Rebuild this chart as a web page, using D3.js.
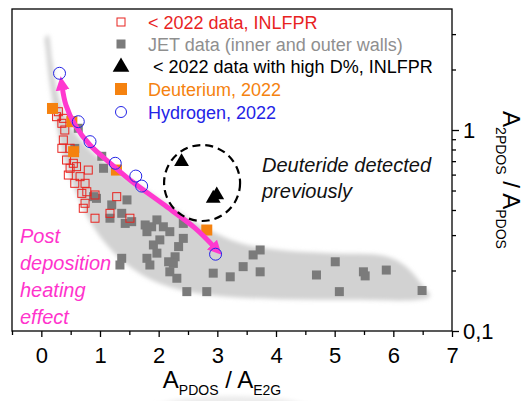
<!DOCTYPE html>
<html>
<head>
<meta charset="utf-8">
<script src="https://cdn.jsdelivr.net/npm/d3@7"></script>
<style>
  body { margin: 0; background: #fff; }
  svg { display: block; font-family: "Liberation Sans", Arial, sans-serif; }
</style>
</head>
<body>
<svg id="chart" width="530" height="401"></svg>
<script>
// ---- Data -------------------------------------------------------------
// JET data (inner and outer walls)
const jetX = [0.63, 0.57, 1.03, 1.06, 0.89, 0.94, 1.20, 1.46, 1.17, 1.37, 1.43, 1.54, 1.77, 1.88, 1.97, 2.08,
              2.19, 1.80, 2.42, 1.91, 1.97, 1.80, 1.85, 2.34, 2.28, 2.17, 2.19, 2.31, 1.37, 1.34, 2.48, 2.82,
              2.42, 2.02, 2.25, 2.93, 3.22, 3.44, 3.61, 3.73, 3.73, 4.69, 5.01, 5.08, 5.49, 5.52, 5.88, 6.49];
const jetY = [1.02, 0.81, 0.74, 0.645, 0.466, 0.457, 0.424, 0.449, 0.364, 0.385, 0.343, 0.350, 0.337, 0.330, 0.357, 0.330,
              0.312, 0.312, 0.289, 0.268, 0.244, 0.230, 0.213, 0.263, 0.234, 0.221, 0.197, 0.183, 0.230, 0.213, 0.157, 0.157,
              0.343, 0.284, 0.217, 0.194, 0.186, 0.209, 0.239, 0.253, 0.197, 0.190, 0.221, 0.157, 0.197, 0.188, 0.201, 0.159];

// < 2022 data, INLFPR
const inlfprX = [0.26, 0.29, 0.375, 0.35, 0.40, 0.375, 0.35, 0.49, 0.43, 0.545, 0.49, 0.60, 0.46,
                 0.66, 0.80, 0.57, 0.745, 0.775, 0.69, 0.915, 0.745, 0.715, 0.915, 1.285, 1.17, 1.51];
const inlfprY = [1.165, 1.233, 1.143, 1.08, 1.00, 0.892, 0.811, 0.811, 0.709, 0.683, 0.645, 0.657, 0.597,
                 0.586, 0.632, 0.543, 0.543, 0.493, 0.484, 0.475, 0.432, 0.408, 0.364, 0.466, 0.385, 0.364];

// < 2022 data with high D%, INLFPR
const highDX = [2.39, 2.93, 2.99];
const highDY = [0.695, 0.457, 0.475];

// Deuterium, 2022
const deutX = [0.19, 0.52, 0.55, 1.28, 2.82];
const deutY = [1.28, 1.10, 0.78, 0.632, 0.318];

// Hydrogen, 2022
const hydX = [0.31, 0.63, 0.83, 1.26, 1.61, 1.71, 2.97];
const hydY = [1.915, 1.10, 0.875, 0.683, 0.59, 0.526, 0.241];

// Envelope of the data cloud (upper edge, then lower edge back)
const bandX = [0.114, 0.182, 0.25, 0.353, 0.523, 0.83, 1.256, 1.682, 2.194, 2.79, 3.387, 4.069, 4.92, 5.858, 6.2, 6.455, 6.626,
               6.421, 5.262, 4.069, 3.046, 2.364, 1.853, 1.427, 1.086, 0.796, 0.574, 0.387, 0.25, 0.148, 0.08, 0.063];
const bandY = [2.97, 2.23, 1.67, 1.29, 1.02, 0.795, 0.632, 0.526, 0.419, 0.325, 0.274, 0.253, 0.244, 0.236, 0.211, 0.175, 0.149,
               0.143, 0.143, 0.144, 0.149, 0.160, 0.181, 0.218, 0.274, 0.365, 0.503, 0.726, 1.096, 1.67, 2.50, 2.87];

// Post-deposition heating trend (double-headed arrow)
const trendX = [0.353, 0.42, 0.574, 0.83, 1.171, 1.512, 2.074, 2.62, 2.957];
const trendY = [1.655, 1.33, 1.06, 0.842, 0.685, 0.564, 0.428, 0.325, 0.26];

// Deuteride group centre
const deuterideCentre = [2.74, 0.545];

const xMajorTicks = [0, 1, 2, 3, 4, 5, 6, 7];
const xMinorTicks = [-0.5, 0.5, 1.5, 2.5, 3.5, 4.5, 5.5, 6.5];
const yMajorTicks = [0.1, 1];
const yMajorLabels = ["0,1", "1"];
const yMinorTicks = [0.2, 0.3, 0.4, 0.5, 0.6, 0.7, 0.8, 0.9, 2, 3];

const legendLabels = ["< 2022 data, INLFPR", "JET data (inner and outer walls)",
                      " < 2022 data with high D%, INLFPR", "Deuterium, 2022", "Hydrogen, 2022"];

// ---- Drawing ----------------------------------------------------------
const RED = "#e8231f", GRAY = "#7b7b7b", ORANGE = "#f5820f", BLUE = "#2424e6", PINK = "#ff38cf";
const svg = d3.select("#chart");

const x = d3.scaleLinear().domain([-0.5, 7]).range([12, 452]);
const y = d3.scaleLog().domain([0.1, 4]).range([331, 9]);

const defs = svg.append("defs");
defs.append("filter").attr("id", "soft").attr("x", "-10%").attr("y", "-10%").attr("width", "120%").attr("height", "120%")
  .append("feGaussianBlur").attr("stdDeviation", 2);
defs.append("marker")
  .attr("id", "head").attr("viewBox", "0 0 10 10")
  .attr("markerUnits", "userSpaceOnUse").attr("markerWidth", 14).attr("markerHeight", 16)
  .attr("refX", 3).attr("refY", 5).attr("orient", "auto-start-reverse")
  .append("path").attr("d", "M0,0 L10,5 L0,10 z").attr("fill", PINK);

svg.append("rect").attr("width", 530).attr("height", 401).attr("fill", "#fff");

// faint shape below the axis title
svg.append("ellipse").attr("cx", 232).attr("cy", 412).attr("rx", 85).attr("ry", 16)
  .attr("fill", "#ececec").attr("filter", "url(#soft)");

// envelope band
const band = d3.range(bandX.length).map(i => [x(bandX[i]), y(bandY[i])]);
svg.append("path")
  .attr("d", d3.line().curve(d3.curveCatmullRomClosed.alpha(0.5))(band))
  .attr("fill", "#d2d2d2").attr("filter", "url(#soft)");

// JET squares
const sJ = 9;
svg.append("g").selectAll("rect").data(jetX).join("rect")
  .attr("x", (d, i) => x(d) - sJ / 2).attr("y", (d, i) => y(jetY[i]) - sJ / 2)
  .attr("width", sJ).attr("height", sJ).attr("fill", GRAY);

// INLFPR hollow squares
const sR = 8;
svg.append("g").selectAll("rect").data(inlfprX).join("rect")
  .attr("x", (d, i) => x(d) - sR / 2).attr("y", (d, i) => y(inlfprY[i]) - sR / 2)
  .attr("width", sR).attr("height", sR).attr("fill", "none").attr("stroke", RED).attr("stroke-width", 1);

// Deuterium squares
const sO = 11;
svg.append("g").selectAll("rect").data(deutX).join("rect")
  .attr("x", (d, i) => x(d) - sO / 2).attr("y", (d, i) => y(deutY[i]) - sO / 2)
  .attr("width", sO).attr("height", sO).attr("fill", ORANGE);

// trend arrow
const trend = d3.range(trendX.length).map(i => [x(trendX[i]), y(trendY[i])]);
svg.append("path")
  .attr("d", d3.line().curve(d3.curveCatmullRom.alpha(0.5))(trend))
  .attr("fill", "none").attr("stroke", PINK).attr("stroke-width", 5)
  .attr("marker-start", "url(#head)").attr("marker-end", "url(#head)");

// Hydrogen circles
svg.append("g").selectAll("circle").data(hydX).join("circle")
  .attr("cx", d => x(d)).attr("cy", (d, i) => y(hydY[i])).attr("r", 6)
  .attr("fill", "none").attr("stroke", BLUE).attr("stroke-width", 1);

// high D% triangles
const tri = d3.symbol().type(d3.symbolTriangle).size(95);
svg.append("g").selectAll("path").data(highDX).join("path")
  .attr("transform", (d, i) => `translate(${x(d)},${y(highDY[i])})`)
  .attr("d", tri).attr("fill", "#000");

// dashed ring around deuteride group
svg.append("circle")
  .attr("cx", x(deuterideCentre[0])).attr("cy", y(deuterideCentre[1])).attr("r", 38)
  .attr("fill", "none").attr("stroke", "#000").attr("stroke-width", 2.2).attr("stroke-dasharray", "8,5");

// annotations
const note = svg.append("text").attr("font-style", "italic").attr("font-size", 20).attr("fill", "#111");
note.append("tspan").attr("x", 262).attr("y", 172).text("Deuteride detected");
note.append("tspan").attr("x", 262).attr("y", 198).text("previously");

const post = svg.append("text").attr("font-style", "italic").attr("font-size", 20).attr("fill", "#ff33cc");
["Post", "deposition", "heating", "effect"].forEach((t, i) =>
  post.append("tspan").attr("x", 20).attr("y", 243 + i * 27).text(t));

// legend
const legendY = [22, 44, 66, 89, 112];
const lg = svg.append("g");
const lx = 121;
lg.append("rect").attr("x", lx - 4).attr("y", legendY[0] - 4).attr("width", 8).attr("height", 8)
  .attr("fill", "none").attr("stroke", RED);
lg.append("rect").attr("x", lx - 4.5).attr("y", legendY[1] - 4.5).attr("width", 9).attr("height", 9).attr("fill", GRAY);
lg.append("path").attr("transform", `translate(${lx},${legendY[2] + 1})`)
  .attr("d", d3.symbol().type(d3.symbolTriangle).size(120)).attr("fill", "#000");
lg.append("rect").attr("x", lx - 6).attr("y", legendY[3] - 6).attr("width", 12).attr("height", 12).attr("fill", ORANGE);
lg.append("circle").attr("cx", lx).attr("cy", legendY[4]).attr("r", 5.5).attr("fill", "none").attr("stroke", BLUE);
const legendColors = [RED, "#8f8f8f", "#000", ORANGE, BLUE];
legendLabels.forEach((t, i) =>
  lg.append("text").attr("x", 148).attr("y", legendY[i] + 6.5).attr("font-size", 18)
    .attr("fill", legendColors[i]).attr("xml:space", "preserve").style("white-space", "pre").text(t));

// frame
svg.append("rect").attr("x", 12).attr("y", 9).attr("width", 440).attr("height", 322)
  .attr("fill", "none").attr("stroke", "#000").attr("stroke-width", 1.3);

// axes
const styleAxis = g => {
  g.select(".domain").remove();
  g.selectAll("line").attr("stroke", "#000").attr("stroke-width", 1.3);
  g.selectAll("text").attr("fill", "#000").attr("font-size", 22)
    .attr("font-family", "'Liberation Sans', Arial, sans-serif");
};
svg.append("g").attr("transform", "translate(0,331)")
  .call(d3.axisBottom(x).tickValues(xMinorTicks).tickSize(4).tickFormat("")).call(styleAxis);
svg.append("g").attr("transform", "translate(0,331)")
  .call(d3.axisBottom(x).tickValues(xMajorTicks).tickSize(6).tickPadding(10).tickFormat(d3.format("d"))).call(styleAxis);
svg.append("g").attr("transform", "translate(452,0)")
  .call(d3.axisRight(y).tickValues(yMinorTicks).tickSize(4).tickFormat("")).call(styleAxis);
svg.append("g").attr("transform", "translate(452,0)")
  .call(d3.axisRight(y).tickValues(yMajorTicks).tickSize(7).tickPadding(4)
    .tickFormat((d, i) => yMajorLabels[i])).call(styleAxis);

// axis titles
const xt = svg.append("text").attr("x", 222).attr("y", 388).attr("text-anchor", "middle").attr("font-size", 24).attr("fill", "#000");
xt.append("tspan").text("A");
xt.append("tspan").attr("font-size", 14).attr("dy", 7).text("PDOS");
xt.append("tspan").attr("dy", -7).text(" / A");
xt.append("tspan").attr("font-size", 14).attr("dy", 7).text("E2G");

const yt = svg.append("text").attr("transform", "translate(503,180) rotate(90)")
  .attr("text-anchor", "middle").attr("font-size", 24).attr("fill", "#000");
yt.append("tspan").text("A");
yt.append("tspan").attr("font-size", 14).attr("dy", 7).text("2PDOS");
yt.append("tspan").attr("dy", -7).text(" / A");
yt.append("tspan").attr("font-size", 14).attr("dy", 7).text("PDOS");
</script>
</body>
</html>
